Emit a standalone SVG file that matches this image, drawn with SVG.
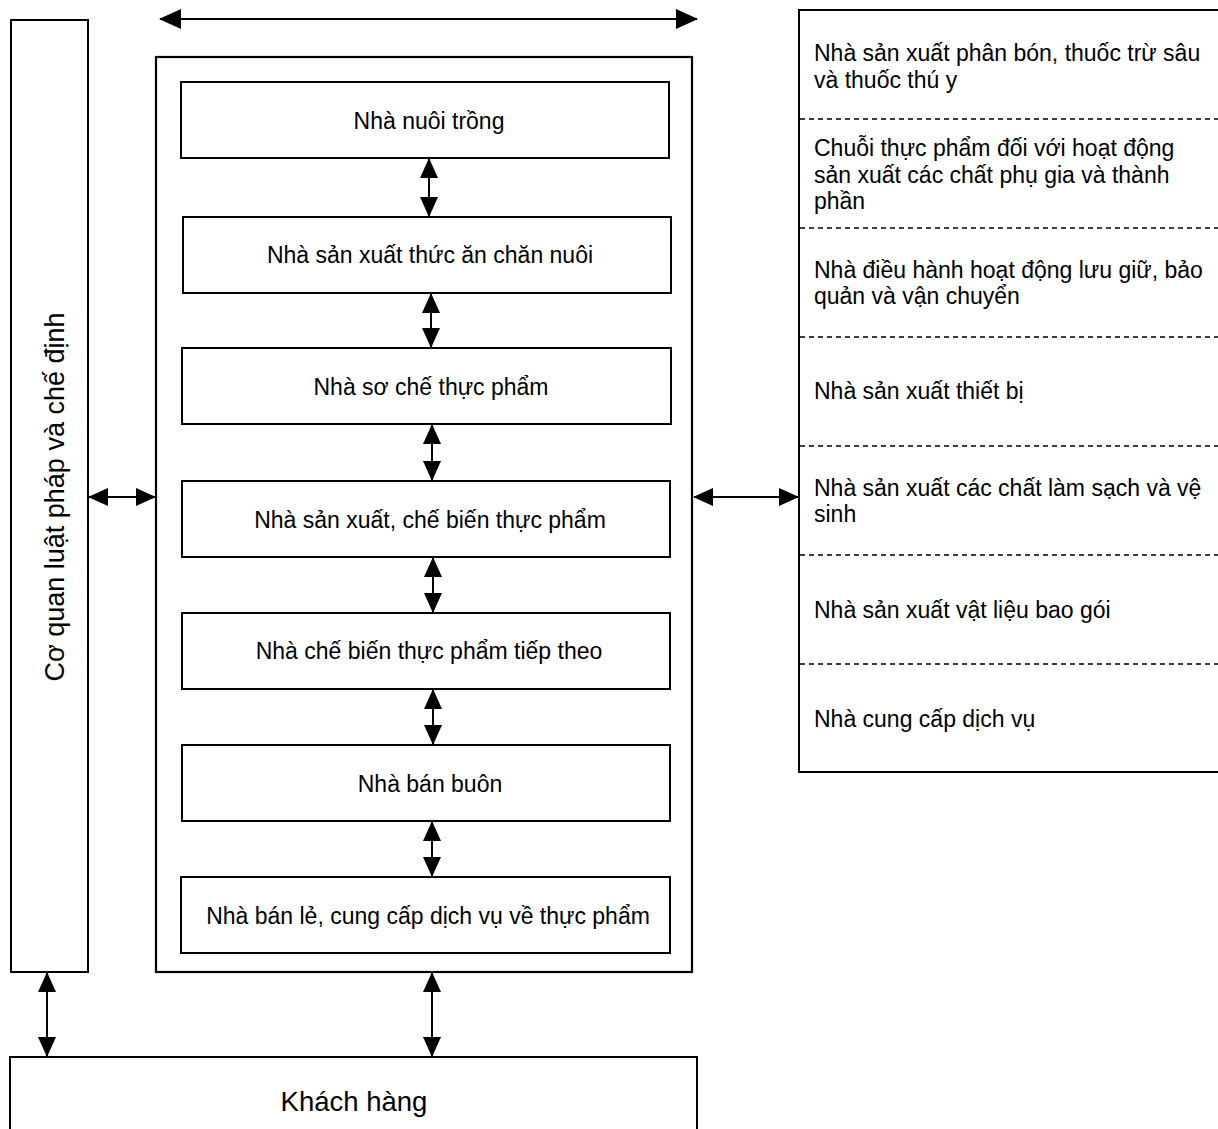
<svg xmlns="http://www.w3.org/2000/svg" width="1218" height="1129" viewBox="0 0 1218 1129">
<style>
.box{fill:#fff;stroke:#000;stroke-width:2}
.cont{fill:#fff;stroke:#000;stroke-width:2.2}
.t{font-family:"Liberation Sans",Arial,sans-serif;font-size:23px;fill:#000}
.c{text-anchor:middle}
.ln{stroke:#000;stroke-width:2;fill:none;marker-start:url(#ah);marker-end:url(#ah)}
.dash{stroke:#000;stroke-width:1.5;stroke-dasharray:5,4;fill:none}
</style>
<defs>
<marker id="ah" markerUnits="userSpaceOnUse" markerWidth="20" markerHeight="18" viewBox="0 0 20 18" refX="19" refY="9" orient="auto-start-reverse">
<path d="M0,0 L20,9 L0,18 z" fill="#000"/>
</marker>
<marker id="ahb" markerUnits="userSpaceOnUse" markerWidth="22" markerHeight="20" viewBox="0 0 22 20" refX="21" refY="10" orient="auto-start-reverse">
<path d="M0,0 L22,10 L0,20 z" fill="#000"/>
</marker>
</defs>
<rect width="1218" height="1129" fill="#fff"/>

<g id="regulator">
<rect class="box" x="11" y="20" width="77" height="952"/>
<text class="t c" transform="translate(55,497) rotate(-90)" dominant-baseline="central" style="font-size:27px">Cơ quan luật pháp và chế định</text>
</g>

<g id="chain">
<rect class="cont" x="156" y="57" width="536" height="915"/>
</g>
<g id="n1"><rect class="box" x="181" y="82" width="488" height="76"/><text class="t c" x="429" y="129">Nhà nuôi trồng</text></g>
<g id="n2"><rect class="box" x="183" y="217" width="488" height="76"/><text class="t c" x="430" y="263">Nhà sản xuất thức ăn chăn nuôi</text></g>
<g id="n3"><rect class="box" x="182" y="348" width="489" height="76"/><text class="t c" x="431" y="395">Nhà sơ chế thực phẩm</text></g>
<g id="n4"><rect class="box" x="182" y="481" width="488" height="76"/><text class="t c" x="430" y="528">Nhà sản xuất, chế biến thực phẩm</text></g>
<g id="n5"><rect class="box" x="182" y="613" width="488" height="76"/><text class="t c" x="429" y="659">Nhà chế biến thực phẩm tiếp theo</text></g>
<g id="n6"><rect class="box" x="182" y="745" width="488" height="76"/><text class="t c" x="430" y="792">Nhà bán buôn</text></g>
<g id="n7"><rect class="box" x="181" y="877" width="489" height="76"/><text class="t c" x="428" y="924">Nhà bán lẻ, cung cấp dịch vụ về thực phẩm</text></g>

<g id="customer">
<rect class="box" x="10" y="1057" width="687" height="90"/>
<text class="t c" x="354" y="1111" style="font-size:27.5px">Khách hàng</text>
</g>

<g id="suppliers">
<rect class="box" x="799" y="10" width="440" height="762"/>
<line class="dash" x1="800" y1="119" x2="1218" y2="119"/>
<line class="dash" x1="800" y1="228" x2="1218" y2="228"/>
<line class="dash" x1="800" y1="337" x2="1218" y2="337"/>
<line class="dash" x1="800" y1="446" x2="1218" y2="446"/>
<line class="dash" x1="800" y1="555" x2="1218" y2="555"/>
<line class="dash" x1="800" y1="664" x2="1218" y2="664"/>
<text class="t" x="814" y="61">Nhà sản xuất phân bón, thuốc trừ sâu</text>
<text class="t" x="814" y="88">và thuốc thú y</text>
<text class="t" x="814" y="156">Chuỗi thực phẩm đối với hoạt động</text>
<text class="t" x="814" y="183">sản xuất các chất phụ gia và thành</text>
<text class="t" x="814" y="209">phần</text>
<text class="t" x="814" y="278">Nhà điều hành hoạt động lưu giữ, bảo</text>
<text class="t" x="814" y="304">quản và vận chuyển</text>
<text class="t" x="814" y="399">Nhà sản xuất thiết bị</text>
<text class="t" x="814" y="496">Nhà sản xuất các chất làm sạch và vệ</text>
<text class="t" x="814" y="522">sinh</text>
<text class="t" x="814" y="618">Nhà sản xuất vật liệu bao gói</text>
<text class="t" x="814" y="727">Nhà cung cấp dịch vụ</text>
</g>

<g id="connectors">
<line class="ln" x1="160" y1="19" x2="697" y2="19" style="marker-start:url(#ahb);marker-end:url(#ahb)"/>
<line class="ln" x1="429" y1="159" x2="429" y2="216"/>
<line class="ln" x1="431" y1="294" x2="431" y2="347"/>
<line class="ln" x1="432" y1="425" x2="432" y2="480"/>
<line class="ln" x1="433" y1="558" x2="433" y2="612"/>
<line class="ln" x1="433" y1="690" x2="433" y2="744"/>
<line class="ln" x1="432" y1="822" x2="432" y2="876"/>
<line class="ln" x1="89" y1="497" x2="155" y2="497"/>
<line class="ln" x1="694" y1="497" x2="798" y2="497"/>
<line class="ln" x1="47" y1="973" x2="47" y2="1056"/>
<line class="ln" x1="432" y1="973" x2="432" y2="1056"/>
</g>
</svg>
